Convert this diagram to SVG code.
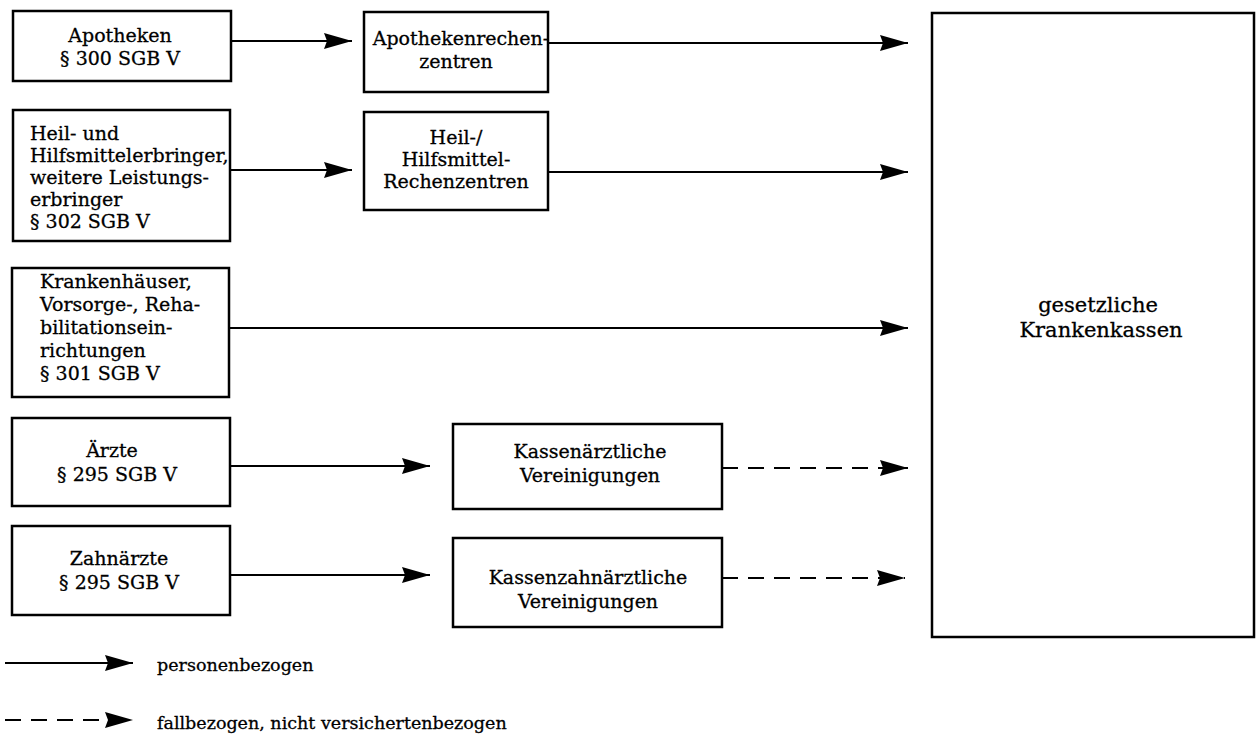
<svg xmlns="http://www.w3.org/2000/svg" width="1257" height="738" viewBox="0 0 1257 738">
<style>
.box{fill:#fff;stroke:#000;stroke-width:2.5}
.t{font-family:"DejaVu Serif","Liberation Serif",serif;font-size:19px;fill:#000;stroke:#000;stroke-width:0.3}
.c{text-anchor:middle}
.big{font-size:21px}
.leg{font-size:17.5px}
.ln{stroke:#000;stroke-width:2;fill:none}
.dash{stroke-dasharray:16 10}
</style>
<defs>
<marker id="ah" markerUnits="userSpaceOnUse" markerWidth="28" markerHeight="16" refX="28" refY="8" orient="auto">
<path d="M0,0 L28,8 L0,16 L3,8 z" fill="#000"/>
</marker>
</defs>
<rect width="1257" height="738" fill="#fff"/>
<g id="connectors">
<line class="ln" x1="232" y1="41" x2="352" y2="41" marker-end="url(#ah)"/>
<line class="ln" x1="548" y1="43" x2="908" y2="43" marker-end="url(#ah)"/>
<line class="ln" x1="230" y1="170" x2="352" y2="170" marker-end="url(#ah)"/>
<line class="ln" x1="548" y1="172" x2="908" y2="172" marker-end="url(#ah)"/>
<line class="ln" x1="229" y1="328" x2="908" y2="328" marker-end="url(#ah)"/>
<line class="ln" x1="230" y1="466" x2="430" y2="466" marker-end="url(#ah)"/>
<line class="ln dash" x1="722" y1="468" x2="908" y2="468" marker-end="url(#ah)"/>
<line class="ln" x1="230" y1="575" x2="430" y2="575" marker-end="url(#ah)"/>
<line class="ln dash" x1="722" y1="578" x2="905" y2="578" marker-end="url(#ah)"/>
</g>
<g id="apotheken">
<rect class="box" x="13" y="11" width="218" height="70"/>
<text class="t c" x="120" y="42">Apotheken</text>
<text class="t c" x="120" y="65">§ 300 SGB V</text>
</g>
<g id="apothekenrechenzentren">
<rect class="box" x="364" y="12" width="184" height="80"/>
<text class="t c" x="461" y="45">Apothekenrechen-</text>
<text class="t c" x="456" y="68">zentren</text>
</g>
<g id="heilmittel">
<rect class="box" x="13" y="110" width="217" height="131"/>
<text class="t" x="30" y="140">Heil- und</text>
<text class="t" x="30" y="162">Hilfsmittelerbringer,</text>
<text class="t" x="30" y="184">weitere Leistungs-</text>
<text class="t" x="30" y="206">erbringer</text>
<text class="t" x="30" y="228">§ 302 SGB V</text>
</g>
<g id="heilmittelrechenzentren">
<rect class="box" x="364" y="112" width="184" height="98"/>
<text class="t c" x="456" y="144">Heil-/</text>
<text class="t c" x="456" y="166">Hilfsmittel-</text>
<text class="t c" x="456" y="188">Rechenzentren</text>
</g>
<g id="krankenhaeuser">
<rect class="box" x="12" y="268" width="217" height="129"/>
<text class="t" x="40" y="288">Krankenhäuser,</text>
<text class="t" x="40" y="311">Vorsorge-, Reha-</text>
<text class="t" x="40" y="334">bilitationsein-</text>
<text class="t" x="40" y="357">richtungen</text>
<text class="t" x="40" y="380">§ 301 SGB V</text>
</g>
<g id="aerzte">
<rect class="box" x="12" y="418" width="218" height="88"/>
<text class="t c" x="112" y="457">Ärzte</text>
<text class="t c" x="117" y="481">§ 295 SGB V</text>
</g>
<g id="kv">
<rect class="box" x="453" y="424" width="269" height="85"/>
<text class="t c" x="590" y="458">Kassenärztliche</text>
<text class="t c" x="590" y="482">Vereinigungen</text>
</g>
<g id="zahnaerzte">
<rect class="box" x="12" y="526" width="218" height="89"/>
<text class="t c" x="119" y="565">Zahnärzte</text>
<text class="t c" x="119" y="589">§ 295 SGB V</text>
</g>
<g id="kzv">
<rect class="box" x="453" y="538" width="269" height="89"/>
<text class="t c" x="588" y="584">Kassenzahnärztliche</text>
<text class="t c" x="588" y="608">Vereinigungen</text>
</g>
<g id="krankenkassen">
<rect class="box" x="932" y="13" width="322" height="624"/>
<text class="t c big" x="1098" y="312">gesetzliche</text>
<text class="t c big" x="1101" y="337">Krankenkassen</text>
</g>
<g id="legend">
<line class="ln" x1="5" y1="663" x2="133" y2="663" marker-end="url(#ah)"/>
<text class="t leg" x="157" y="671">personenbezogen</text>
<line class="ln dash" x1="5" y1="720" x2="133" y2="720" marker-end="url(#ah)"/>
<text class="t leg" x="157" y="729">fallbezogen, nicht versichertenbezogen</text>
</g>
</svg>
